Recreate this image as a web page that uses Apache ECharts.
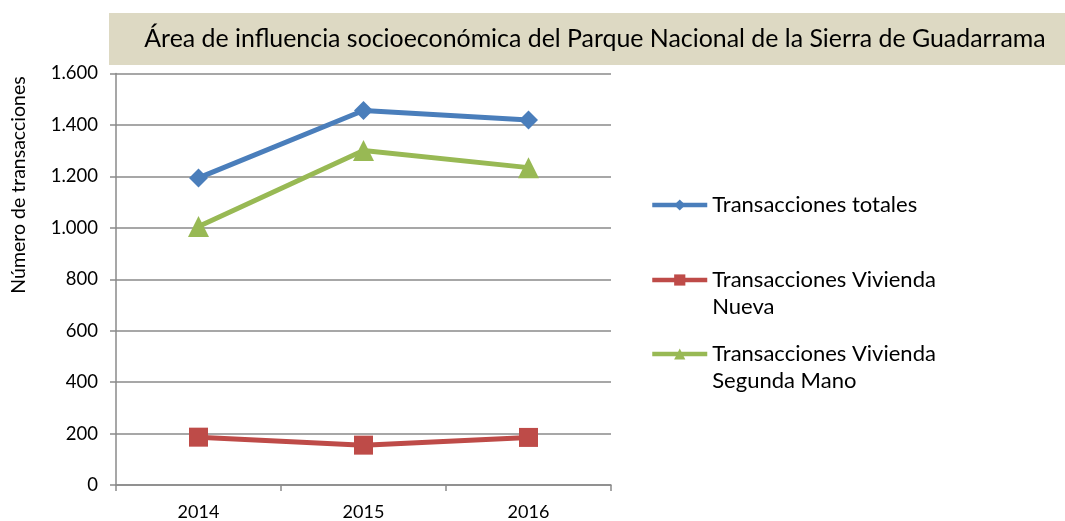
<!DOCTYPE html>
<html>
<head>
<meta charset="utf-8">
<script src="https://cdn.jsdelivr.net/npm/echarts@6/dist/echarts.min.js"></script>
<style>
  html, body { margin: 0; padding: 0; background: #fff; }
  #chart { width: 1065px; height: 521px; }
</style>
</head>
<body>
<div id="chart"></div>
<script>
// Años y número de transacciones por tipo
const years = ['2014', '2015', '2016'];
const totales = [1194, 1456, 1419];
const viviendaNueva = [186, 155, 185];
const segundaMano = [1005, 1301, 1234];
const yTicks = [0, 200, 400, 600, 800, 1000, 1200, 1400, 1600];

const FONT = 'Lato, "Open Sans", sans-serif';
const GRID_COLOR = '#8a8a8a';

// A leading blank line keeps the legend icon level with the first line of a two-line name
const seriesDefs = [
  { name: 'Transacciones totales', data: totales, color: '#4a7ebb', symbol: 'diamond', size: 19, label: 'Transacciones totales' },
  { name: 'Transacciones Vivienda Nueva', data: viviendaNueva, color: '#be4b48', symbol: 'rect', size: 19, label: ' \nTransacciones Vivienda\nNueva' },
  { name: 'Transacciones Vivienda Segunda Mano', data: segundaMano, color: '#98b954', symbol: 'triangle', size: 21, label: ' \nTransacciones Vivienda\nSegunda Mano' }
];

const legendTops = [191.5, 239.5, 313.5];

const chart = echarts.init(document.getElementById('chart'), null, { renderer: 'canvas' });

chart.setOption({
  animation: false,
  backgroundColor: '#ffffff',
  title: {
    text: 'Área de influencia socioeconómica del Parque Nacional de la Sierra de Guadarrama',
    left: 595,
    textAlign: 'center',
    top: 26,
    padding: 0,
    textStyle: { fontFamily: FONT, fontSize: 24.9, fontWeight: 'normal', color: '#000' }
  },
  graphic: [
    {
      type: 'rect',
      z: -1,
      shape: { x: 109, y: 13, width: 956, height: 52 },
      style: { fill: '#ddd9c3' }
    },
    {
      type: 'text',
      x: 19,
      y: 185,
      rotation: Math.PI / 2,
      style: {
        text: 'Número de transacciones',
        font: '19.5px ' + FONT,
        fill: '#000',
        align: 'center',
        verticalAlign: 'middle'
      }
    }
  ],
  legend: seriesDefs.map((s, i) => ({
    data: [s.name],
    left: 650,
    top: legendTops[i],
    padding: 0,
    itemWidth: 55,
    itemHeight: 14,
    lineStyle: { width: 4.5 },
    formatter: () => s.label,
    textStyle: {
      fontFamily: FONT,
      fontSize: 22,
      color: '#000',
      lineHeight: 27
    }
  })),
  grid: { left: 116, right: 454, top: 73.5, bottom: 36, containLabel: false },
  xAxis: {
    type: 'category',
    data: years,
    boundaryGap: true,
    axisLine: { lineStyle: { color: GRID_COLOR, width: 1.5 } },
    axisTick: { show: true, length: 6, lineStyle: { color: GRID_COLOR, width: 1.5 } },
    axisLabel: { fontFamily: FONT, fontSize: 18, color: '#000', margin: 18 }
  },
  yAxis: {
    type: 'value',
    min: 0,
    max: 1600,
    interval: 200,
    axisLine: { show: true, lineStyle: { color: GRID_COLOR, width: 1.5 } },
    axisTick: { show: true, length: 6, lineStyle: { color: GRID_COLOR, width: 1.5 } },
    splitLine: { show: true, lineStyle: { color: GRID_COLOR, width: 1.5 } },
    axisLabel: {
      fontFamily: FONT,
      fontSize: 18.5,
      color: '#000',
      margin: 18,
      formatter: v => yTicks.includes(v) ? v.toString().replace(/\B(?=(\d{3})+(?!\d))/g, '.') : ''
    }
  },
  series: seriesDefs.map(s => ({
    name: s.name,
    type: 'line',
    data: s.data,
    symbol: s.symbol,
    symbolSize: s.size,
    showAllSymbol: true,
    color: s.color,
    lineStyle: { color: s.color, width: 5 },
    itemStyle: { color: s.color }
  }))
});
</script>
</body>
</html>
